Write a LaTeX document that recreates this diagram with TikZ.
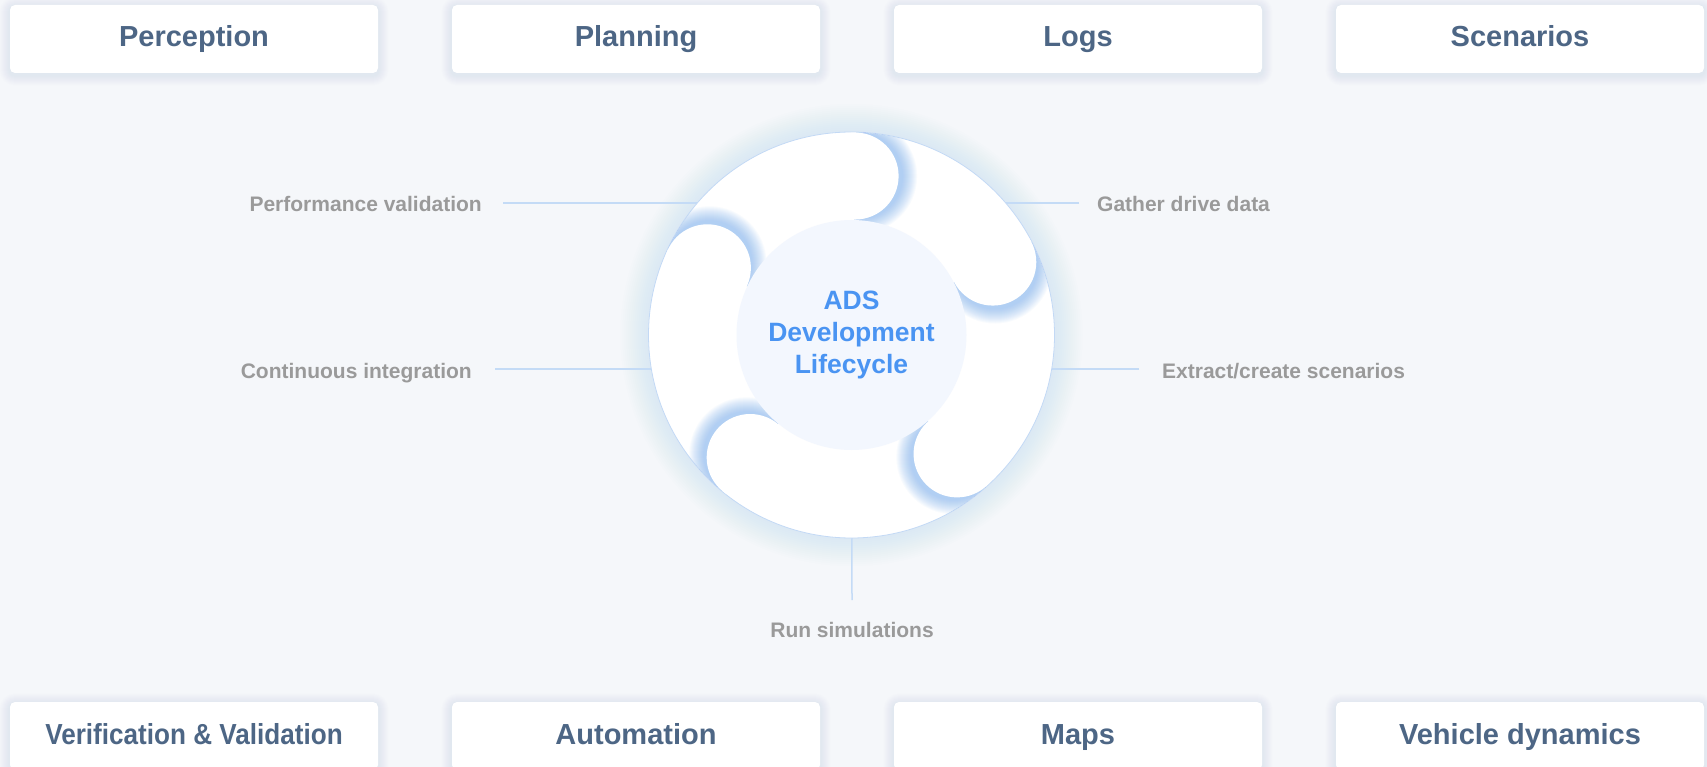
\documentclass[tikz,border=0pt]{standalone}
\usepackage{graphicx}
\usepackage{fontspec}
\setmainfont{Liberation Sans}
\usetikzlibrary{calc}
\definecolor{bgc}{HTML}{F5F7FA}
\definecolor{boxtext}{HTML}{4D6685}
\definecolor{lblc}{HTML}{9A9A9A}
\definecolor{linec}{HTML}{C4DBF6}
\definecolor{centertext}{HTML}{4A94F2}
\definecolor{innerc}{HTML}{F3F7FE}
\definecolor{glowc}{HTML}{B5CFF4}
\definecolor{shadc}{HTML}{6AA6F3}
\definecolor{rimc}{HTML}{C3D9F5}
\definecolor{boxsh}{HTML}{A9BAD2}
\pgfdeclarelayer{bgl}
\pgfdeclarelayer{shl}
\pgfsetlayers{bgl,shl,main}
\tikzset{
  tbox/.style={fill=white, rounded corners=5pt, minimum width=368pt, minimum height=68pt,
    inner sep=0pt, text height=21pt, text depth=5pt,
    font=\fontsize{29}{34}\selectfont\bfseries, text=boxtext},
  lbl/.style={inner sep=0pt, text height=18pt, text depth=0pt,
    font=\fontsize{21}{25}\selectfont\bfseries, text=lblc},
  conn/.style={draw=linec, line width=1.5pt},
  ringdisk/.style={circle, fill=white, draw=rimc, line width=0.8pt, minimum size=406pt, inner sep=0pt},
  core/.style={circle, fill=innerc, minimum size=230pt, inner sep=0pt, align=center,
    font=\fontsize{26.5}{32}\selectfont\bfseries, text=centertext},
}
\begin{document}
\begin{tikzpicture}[x=1pt,y=1pt]
\useasboundingbox (0,0) rectangle (1707,-767);
\begin{pgfonlayer}{bgl}
  \fill[bgc] (0,0) rectangle (1707,-767);
\end{pgfonlayer}

% category boxes
\node[tbox] (perc) at (194,-39) {Perception};
\node[tbox] (plan) at (636,-39) {Planning};
\node[tbox] (logs) at (1078,-39) {Logs};
\node[tbox] (scen) at (1520,-39) {Scenarios};
\node[tbox] (vv) at (194,-736) {\scalebox{0.9}[1]{Verification \& Validation}};
\node[tbox] (auto) at (636,-736) {Automation};
\node[tbox] (maps) at (1078,-736) {Maps};
\node[tbox] (vdyn) at (1520,-736) {Vehicle dynamics};

\begin{pgfonlayer}{shl}
  \foreach \b in {perc,plan,logs,scen,vv,auto,maps,vdyn}{
    \foreach \k [evaluate=\k as \rr using 5+\k, evaluate=\k as \dn using -\k-2, evaluate=\k as \up using \k-2] in {1,...,10}{
      \fill[boxsh, opacity=0.018, rounded corners=\rr pt]
        ([shift={(-\k pt,\dn pt)}]\b.south west) rectangle ([shift={(\k pt,\up pt)}]\b.north east);
    }
  }
\end{pgfonlayer}

% central ring
\node[ringdisk] (ring) at (851.5,-335) {};

% labels
\node[lbl, anchor=east] (pv) at (482,-203) {Performance validation};
\node[lbl, anchor=east] (ci) at (472,-369) {Continuous integration};
\node[lbl, anchor=west] (gd) at (1097,-203) {Gather drive data};
\node[lbl, anchor=west] (ex) at (1162,-369) {Extract/create scenarios};
\node[lbl, anchor=north] (rs) at (852,-619) {Run simulations};

\begin{pgfonlayer}{shl}
  \foreach \k in {1,...,14}{
    \fill[glowc, opacity=0.024] (ring.center) circle ({203+2*\k});
  }
  \draw[conn] ([xshift=21pt]pv.east) -- (pv.east -| ring.center);
  \draw[conn] ([xshift=23pt]ci.east) -- (ci.east -| ring.center);
  \draw[conn] ([xshift=-18pt]gd.west) -- (gd.west -| ring.center);
  \draw[conn] ([xshift=-23pt]ex.west) -- (ex.west -| ring.center);
  \draw[conn] ([yshift=19pt]rs.north) -- (ring.center);
\end{pgfonlayer}

% swirl shadows
\foreach \a in {88.7,27.3,-48.4,-129.6,155}{
  \begin{scope}
    \clip (ring.center) circle (202.5);
    \clip (ring.center) -- ($(ring.center)+(\a-60:215pt)$) arc[start angle=\a-60, end angle=\a, radius=215pt] -- cycle;
    \foreach \k in {0,...,14}{
      \fill[shadc, opacity=0.045] ($(ring.center)+(\a:159pt)+(\a-90:5pt)$) circle ({43+\k});
    }
  \end{scope}
}
% swirl heads
\foreach \a in {88.7,27.3,-48.4,-129.6,155}{
  \fill[white] ($(ring.center)+(\a:159pt)$) circle (43.5);
}

% core
\node[core] (core) at (ring.center) {ADS\\Development\\Lifecycle};
\end{tikzpicture}
\end{document}
